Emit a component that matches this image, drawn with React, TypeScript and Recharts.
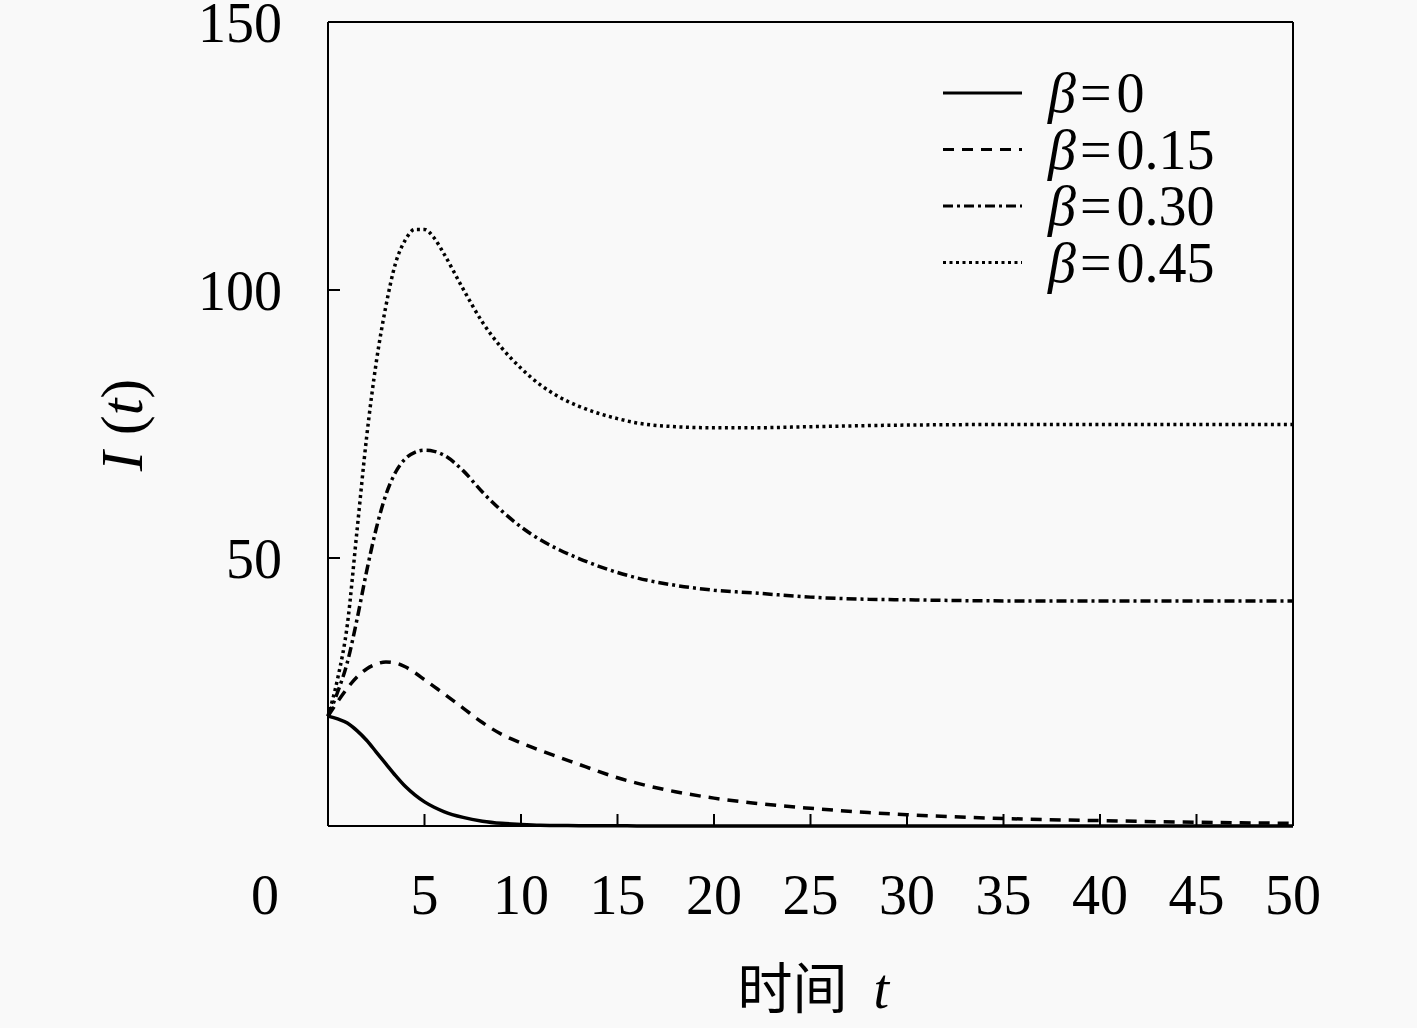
import React from 'react';
import { LineChart, Line, XAxis, YAxis, Legend } from 'recharts';

const tValues = [0, 0.5, 1, 1.5, 2, 2.5, 3, 3.5, 4, 4.5, 5, 5.5, 6, 7, 8, 9, 10, 11, 12, 13, 14, 15, 16, 18, 20, 22, 25, 28, 30, 35, 40, 45, 50];
const beta0 = [20.5, 20.0, 19.2, 17.8, 16.0, 13.8, 11.6, 9.4, 7.4, 5.8, 4.5, 3.5, 2.7, 1.6, 0.9, 0.5, 0.3, 0.15, 0.1, 0.06, 0.04, 0.03, 0.02, 0.01, 0, 0, 0, 0, 0, 0, 0, 0, 0];
const beta015 = [20.5, 23.2, 25.7, 27.8, 29.3, 30.2, 30.6, 30.4, 29.7, 28.6, 27.3, 26.0, 24.7, 22.0, 19.3, 17.1, 15.5, 14.1, 12.8, 11.5, 10.2, 9.0, 8.0, 6.4, 5.2, 4.3, 3.3, 2.5, 2.1, 1.4, 1.0, 0.7, 0.5];
const beta030 = [20.5, 25.0, 30.5, 38.5, 47.5, 55.5, 61.8, 66.0, 68.5, 69.7, 70.1, 69.9, 69.2, 66.3, 62.3, 58.8, 55.8, 53.4, 51.5, 49.9, 48.5, 47.3, 46.3, 44.9, 44.0, 43.5, 42.7, 42.3, 42.2, 42.0, 42.0, 42.0, 42.0];
const beta045 = [20.5, 27.5, 37.5, 55.0, 72.5, 86.5, 97.0, 105.0, 109.3, 111.3, 111.3, 109.7, 106.8, 100.2, 94.0, 89.2, 85.4, 82.3, 80.0, 78.3, 77.0, 76.0, 75.2, 74.5, 74.3, 74.3, 74.5, 74.7, 74.8, 74.9, 74.9, 74.9, 74.9];

const xTicks = [0, 5, 10, 15, 20, 25, 30, 35, 40, 45, 50];
const yTicks = [50, 100, 150];
const seriesKeys = ['b0', 'b015', 'b030', 'b045'];
const seriesLabels = ['0', '0.15', '0.30', '0.45'];
const seriesDash = [undefined, '11 8', '10 4 3 4', '3 3.5'];

const data = tValues.map((t, i) => ({
  t,
  b0: beta0[i],
  b015: beta015[i],
  b030: beta030[i],
  b045: beta045[i],
}));

const SERIF = "'Liberation Serif', 'DejaVu Serif', serif";
const CJK = "'Noto Sans CJK SC', 'Noto Sans CJK JP', sans-serif";
const FS = 56;

const XTick = (props: any) => {
  const { x, y, payload } = props;
  const isZero = payload.value === 0;
  return (
    <text x={isZero ? x - 63 : x} y={y + 88} textAnchor="middle" fontFamily={SERIF} fontSize={FS} fill="#000">
      {payload.value}
    </text>
  );
};

const YTick = (props: any) => {
  const { x, y, payload } = props;
  return (
    <text x={x - 46} y={y + 20} textAnchor="end" fontFamily={SERIF} fontSize={FS} fill="#000">
      {payload.value}
    </text>
  );
};

const XLabel = (props: any) => {
  const vb = props && props.viewBox && props.viewBox.width ? props.viewBox : { x: 328, y: 826, width: 965, height: 100 };
  const cx = vb.x + vb.width / 2;
  return (
    <text x={cx - 73} y={vb.y + 182} textAnchor="start" fill="#000">
      <tspan fontFamily={CJK} fontSize={55}>时间</tspan>
      <tspan fontFamily={SERIF} fontStyle="italic" fontSize={FS} dx={26}>t</tspan>
    </text>
  );
};

const YLabel = (props: any) => {
  const vb = props && props.viewBox && props.viewBox.height ? props.viewBox : { x: 228, y: 22, width: 100, height: 804 };
  const cx = vb.x + vb.width - 186;
  const cy = vb.y + vb.height / 2 + 1;
  return (
    <text x={cx} y={cy} transform={`rotate(-90 ${cx} ${cy})`} textAnchor="middle" fontFamily={SERIF} fontSize={60} fill="#000">
      <tspan fontStyle="italic">I</tspan>
      <tspan dx={16}>(</tspan>
      <tspan fontStyle="italic">t</tspan>
      <tspan>)</tspan>
    </text>
  );
};

const LegendContent = () => (
  <svg width={380} height={240} style={{ display: 'block', overflow: 'visible' }}>
    {seriesKeys.map((k, i) => {
      const cy = 33 + i * 56.5;
      return (
        <g key={k}>
          <line x1={13} x2={92} y1={cy} y2={cy} stroke="#000" strokeWidth={3} strokeDasharray={seriesDash[i]} />
          <text x={118} y={cy + 19} fontFamily={SERIF} fontSize={FS} fill="#000">
            <tspan fontStyle="italic">β</tspan>
            <tspan dx={4}>=</tspan>
            <tspan dx={5}>{seriesLabels[i]}</tspan>
          </text>
        </g>
      );
    })}
  </svg>
);

export default function App() {
  return (
    <div style={{ position: 'absolute', left: 0, top: 0, width: 1417, height: 1028, background: '#f9f9f9' }}>
      <LineChart width={1417} height={1028} data={data} margin={{ top: 12, right: 114, bottom: 102, left: 228 }}>
        <XAxis
          dataKey="t"
          type="number"
          domain={[0, 50]}
          ticks={xTicks}
          interval={0}
          height={100}
          tickSize={-12}
          tickMargin={12}
          axisLine={{ stroke: '#000', strokeWidth: 2 }}
          tickLine={{ stroke: '#000', strokeWidth: 2 }}
          tick={<XTick />}
          label={XLabel}
        />
        <XAxis
          xAxisId="top"
          orientation="top"
          dataKey="t"
          type="number"
          domain={[0, 50]}
          ticks={xTicks}
          interval={0}
          height={10}
          tickSize={-12}
          axisLine={{ stroke: '#000', strokeWidth: 2 }}
          tickLine={{ stroke: '#000', strokeWidth: 2 }}
          tick={false}
        />
        <YAxis
          type="number"
          domain={[0, 150]}
          ticks={yTicks}
          interval={0}
          width={100}
          tickSize={-12}
          tickMargin={12}
          axisLine={{ stroke: '#000', strokeWidth: 2 }}
          tickLine={{ stroke: '#000', strokeWidth: 2 }}
          tick={<YTick />}
          label={YLabel}
        />
        <YAxis
          yAxisId="right"
          orientation="right"
          type="number"
          domain={[0, 150]}
          ticks={yTicks}
          interval={0}
          width={10}
          tickSize={-12}
          axisLine={{ stroke: '#000', strokeWidth: 2 }}
          tickLine={{ stroke: '#000', strokeWidth: 2 }}
          tick={false}
        />
        <Legend
          layout="vertical"
          align="center"
          verticalAlign="middle"
          content={<LegendContent />}
          wrapperStyle={{ position: 'absolute', left: 930, top: 60, width: 380, height: 240 }}
        />
        {seriesKeys.map((k, i) => (
          <Line
            key={k}
            dataKey={k}
            type="monotone"
            stroke="#000"
            strokeWidth={3.5}
            strokeDasharray={seriesDash[i]}
            dot={false}
            activeDot={false}
            isAnimationActive={false}
          />
        ))}
      </LineChart>
    </div>
  );
}
